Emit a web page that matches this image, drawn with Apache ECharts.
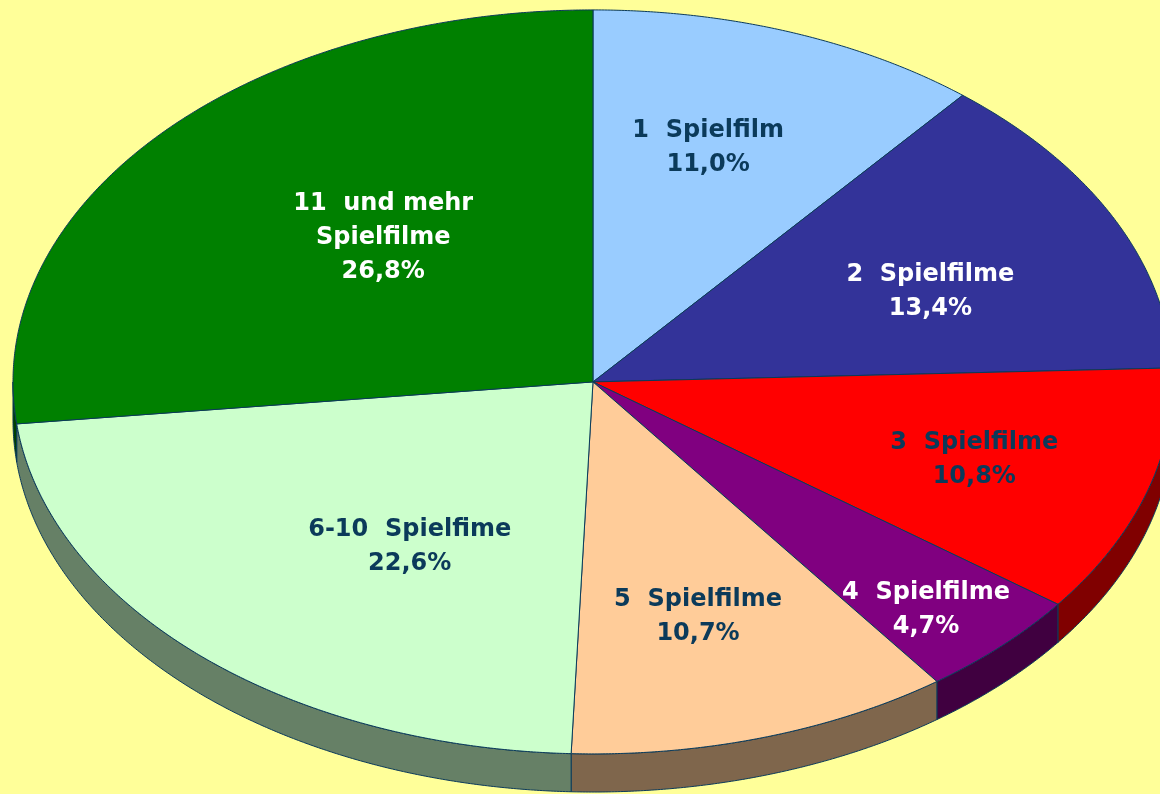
<!DOCTYPE html>
<html>
<head>
<meta charset="utf-8">
<script src="https://cdn.jsdelivr.net/npm/echarts@6/dist/echarts.min.js"></script>
<style>
html,body{margin:0;padding:0;background:#FFFF99;}
#c{width:1160px;height:794px;}
</style>
</head>
<body>
<div id="c"></div>
<script>
// ---- data ----
const categories = ['1  Spielfilm', '2  Spielfilme', '3  Spielfilme', '4  Spielfilme', '5  Spielfilme', '6-10  Spielfime', '11  und mehr\nSpielfilme'];
const values = [11.0, 13.4, 10.8, 4.7, 10.7, 22.6, 26.8];

// ---- styles ----
const topColors = ['#99CCFF', '#333399', '#FF0000', '#800080', '#FFCC99', '#CCFFCC', '#008000'];
const sideColors = ['#4C6680', '#1A1A4C', '#800000', '#400040', '#7F664C', '#668066', '#004000'];
const labelColors = ['#0B3A5A', '#FFFFFF', '#0B3A5A', '#FFFFFF', '#0B3A5A', '#0B3A5A', '#FFFFFF'];
// label placement: [angle offset from slice middle (deg), fraction of radius]
const labelPlacement = [[-2.3, 0.66], [3.7, 0.63], [0.4, 0.69], [1.7, 0.84], [1.1, 0.657], [-7.4, 0.545], [5.2, 0.53]];

const total = values.reduce((a, b) => a + b, 0);
const cum = [];
values.reduce((acc, v, i) => { cum[i] = acc; return acc + v; }, 0);

function fmtPct(v) { return v.toFixed(1).replace('.', ',') + '%'; }

function renderItem(params, api) {
  const W = api.getWidth(), H = api.getHeight();
  const cx = W * 0.5112, cy = H * 0.481, rx = W * 0.5, ry = H * 0.4685, depth = H * 0.048;
  const i = params.dataIndex;
  const v = api.value(0);
  const a0 = cum[i] / total * 2 * Math.PI;
  const a1 = (cum[i] + v) / total * 2 * Math.PI;
  const pt = (a, dy) => [cx + rx * Math.sin(a), cy - ry * Math.cos(a) + (dy || 0)];
  const arc = (s, e, dy) => {
    const n = Math.max(2, Math.ceil(Math.abs(e - s) / 0.005));
    const out = [];
    for (let k = 0; k <= n; k++) out.push(pt(s + (e - s) * k / n, dy));
    return out;
  };
  const children = [];
  const w0 = Math.max(a0, Math.PI / 2), w1 = Math.min(a1, 1.5 * Math.PI);
  if (w1 > w0) {
    const pts = arc(w0, w1, 0).concat(arc(w1, w0, depth));
    children.push({
      type: 'polygon', shape: { points: pts },
      style: { fill: sideColors[i], stroke: '#0B3A5A', lineWidth: 1 }, z2: 1
    });
  }
  const topPts = [[cx, cy]].concat(arc(a0, a1, 0));
  children.push({
    type: 'polygon', shape: { points: topPts },
    style: { fill: topColors[i], stroke: '#0B3A5A', lineWidth: 1, lineJoin: 'round' }, z2: 2
  });
  const lp = labelPlacement[i];
  const am = (a0 + a1) / 2 + lp[1] * 0 + lp[0] * Math.PI / 180;
  const lx = cx + rx * lp[1] * Math.sin(am);
  const ly = cy - ry * lp[1] * Math.cos(am);
  children.push({
    type: 'text', z2: 100,
    x: lx, y: ly,
    style: {
      text: categories[i] + '\n' + fmtPct(v),
      fill: labelColors[i],
      font: 'bold 24px "DejaVu Sans", Verdana, sans-serif',
      align: 'center', verticalAlign: 'middle',
      lineHeight: 34
    }
  });
  return { type: 'group', children };
}

const chart = echarts.init(document.getElementById('c'), null, { renderer: 'canvas' });
chart.setOption({
  backgroundColor: '#FFFF99',
  animation: false,
  series: [{
    type: 'custom',
    coordinateSystem: 'none',
    renderItem: renderItem,
    data: values.map((v, i) => ({ name: categories[i], value: [v] }))
  }]
});
</script>
</body>
</html>
